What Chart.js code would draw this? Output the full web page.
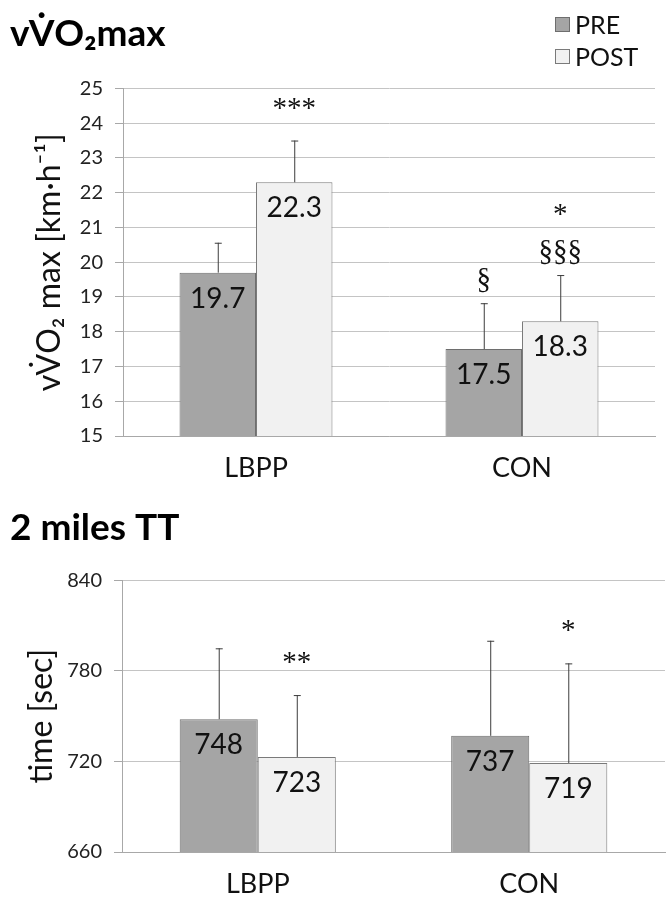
<!DOCTYPE html>
<html>
<head>
<meta charset="utf-8">
<script src="https://cdn.jsdelivr.net/npm/chart.js@4"></script>
<style>
  body { margin: 0; background: #fff; }
  #wrap { position: relative; width: 669px; height: 897px; }
  #top { position: absolute; left: 0; top: 0; }
  #bottom { position: absolute; left: 0; top: 490px; }
</style>
</head>
<body>
<div id="wrap">
  <canvas id="top" width="669" height="490"></canvas>
  <canvas id="bottom" width="669" height="407"></canvas>
</div>
<script>
/* globals Chart:false */

// Data
const categories = ['LBPP', 'CON']
const seriesNames = ['PRE', 'POST']

const vo2Pre = [19.7, 17.5]
const vo2Post = [22.3, 18.3]
const vo2PreSd = [0.86, 1.32]
const vo2PostSd = [1.2, 1.33]
const vo2PreMarks = [[], ['§']]
const vo2PostMarks = [['***'], ['*', '§§§']]
const vo2Ticks = [15, 25, 1] // min, max, step

const ttPre = [748, 737]
const ttPost = [723, 719]
const ttPreSd = [47, 63]
const ttPostSd = [41, 66]
const ttPreMarks = [[], []]
const ttPostMarks = [['**'], ['*']]
const ttTicks = [660, 840, 60]

const FONT = 'Lato, "Open Sans", "DejaVu Sans", sans-serif'
const preColor = '#a5a5a5'
const preBorder = '#6e6e6e'
const postColor = '#f1f1f1'
const postBorder = '#7a7a7a'

// error bars, value labels and significance marks
const barExtras = {
  id: 'barExtras',
  afterDatasetsDraw(chart) {
    const { ctx } = chart
    const y = chart.scales.y
    chart.data.datasets.forEach((ds, i) => {
      const meta = chart.getDatasetMeta(i)
      meta.data.forEach((bar, j) => {
        const top = y.getPixelForValue(ds.data[j] + ds.sd[j])
        ctx.save()
        ctx.strokeStyle = '#3c3c3c'
        ctx.lineWidth = 1
        ctx.beginPath()
        ctx.moveTo(bar.x + 0.5, bar.y)
        ctx.lineTo(bar.x + 0.5, top)
        ctx.moveTo(bar.x - 3, top + 0.5)
        ctx.lineTo(bar.x + 4, top + 0.5)
        ctx.stroke()

        ctx.fillStyle = '#111'
        ctx.textAlign = 'center'
        ctx.textBaseline = 'middle'
        ctx.font = '28px ' + FONT
        ctx.fillText(ds.labels[j], bar.x, bar.y + 26)

        // marks stacked upward from the error bar cap
        ctx.font = '29px "Liberation Serif", serif'
        ctx.textBaseline = 'alphabetic'
        let cursor = top
        ds.marks[j].slice().reverse().forEach((m) => {
          const star = m.includes('*')
          const base = cursor - (star ? 24 : 15)
          ctx.fillText(m, bar.x, base)
          cursor = base - 13
        })
        ctx.restore()
      })
    })
  }
}

const legendBox = {
  id: 'legendBox',
  afterDraw(chart, args, opts) {
    if (!opts.show) return
    const { ctx } = chart
    ctx.save()
    chart.data.datasets.forEach((ds, i) => {
      const x = opts.x
      const yy = opts.y + i * 32
      ctx.fillStyle = ds.backgroundColor
      ctx.strokeStyle = ds.borderColor
      ctx.lineWidth = 1
      ctx.fillRect(x, yy - 8, 15, 15)
      ctx.strokeRect(x + 0.5, yy - 7.5, 14, 14)
      ctx.fillStyle = '#111'
      ctx.font = '25px ' + FONT
      ctx.textBaseline = 'middle'
      ctx.textAlign = 'left'
      ctx.fillText(seriesNames[i], x + 20, yy + 1)
    })
    ctx.restore()
  }
}

function makeChart(el, cfg) {
  return new Chart(el, {
    type: 'bar',
    data: {
      labels: categories,
      datasets: [{
        label: seriesNames[0],
        data: cfg.pre,
        sd: cfg.preSd,
        marks: cfg.preMarks,
        labels: cfg.pre.map(String),
        backgroundColor: preColor,
        borderColor: preBorder,
        borderWidth: 1,
        categoryPercentage: 0.575,
        barPercentage: 1
      }, {
        label: seriesNames[1],
        data: cfg.post,
        sd: cfg.postSd,
        marks: cfg.postMarks,
        labels: cfg.post.map(String),
        backgroundColor: postColor,
        borderColor: postBorder,
        borderWidth: 1,
        categoryPercentage: 0.575,
        barPercentage: 1
      }]
    },
    options: {
      responsive: false,
      animation: false,
      layout: { padding: { left: 10, right: cfg.right, top: 0, bottom: 0 } },
      plugins: {
        legend: { display: false },
        tooltip: { enabled: false },
        title: {
          display: true,
          text: cfg.title,
          align: 'start',
          color: '#000',
          font: { family: FONT, size: 37, weight: 'bold' },
          padding: { top: cfg.titleTop, bottom: cfg.titleBottom }
        },
        legendBox: { show: cfg.legend, x: 555, y: 25 }
      },
      scales: {
        x: {
          grid: { display: false },
          border: { color: '#a8a8a8' },
          ticks: { color: '#111', font: { family: FONT, size: 27 }, padding: 8 },
          afterFit: (s) => { s.height = cfg.xHeight }
        },
        y: {
          min: cfg.ticks[0],
          max: cfg.ticks[1],
          ticks: {
            stepSize: cfg.ticks[2],
            color: '#222',
            font: { family: FONT, size: 20 },
            padding: 12
          },
          grid: { color: '#c4c4c4', tickLength: 8, tickColor: '#a8a8a8' },
          border: { color: '#a8a8a8' },
          title: {
            display: true,
            text: cfg.yTitle,
            color: '#111',
            font: { family: FONT, size: 32 },
            padding: { top: cfg.yTitlePad, bottom: 0 }
          },
          afterFit: (s) => { s.width = cfg.yWidth }
        }
      }
    },
    plugins: [barExtras, legendBox]
  })
}

makeChart(document.getElementById('top'), {
  title: 'vV̇O₂max',
  yTitle: 'vV̇O₂ max [km·h⁻¹]',
  pre: vo2Pre, post: vo2Post,
  preSd: vo2PreSd, postSd: vo2PostSd,
  preMarks: vo2PreMarks, postMarks: vo2PostMarks,
  ticks: vo2Ticks,
  legend: true,
  right: 14,
  titleTop: 12,
  titleBottom: 32,
  xHeight: 54,
  yWidth: 113,
  yTitlePad: 20
})

makeChart(document.getElementById('bottom'), {
  title: '2 miles TT',
  yTitle: 'time [sec]',
  pre: ttPre, post: ttPost,
  preSd: ttPreSd, postSd: ttPostSd,
  preMarks: ttPreMarks, postMarks: ttPostMarks,
  ticks: ttTicks,
  legend: false,
  right: 4,
  titleTop: 16,
  titleBottom: 30,
  xHeight: 45,
  yWidth: 112,
  yTitlePad: 12
})
</script>
</body>
</html>
